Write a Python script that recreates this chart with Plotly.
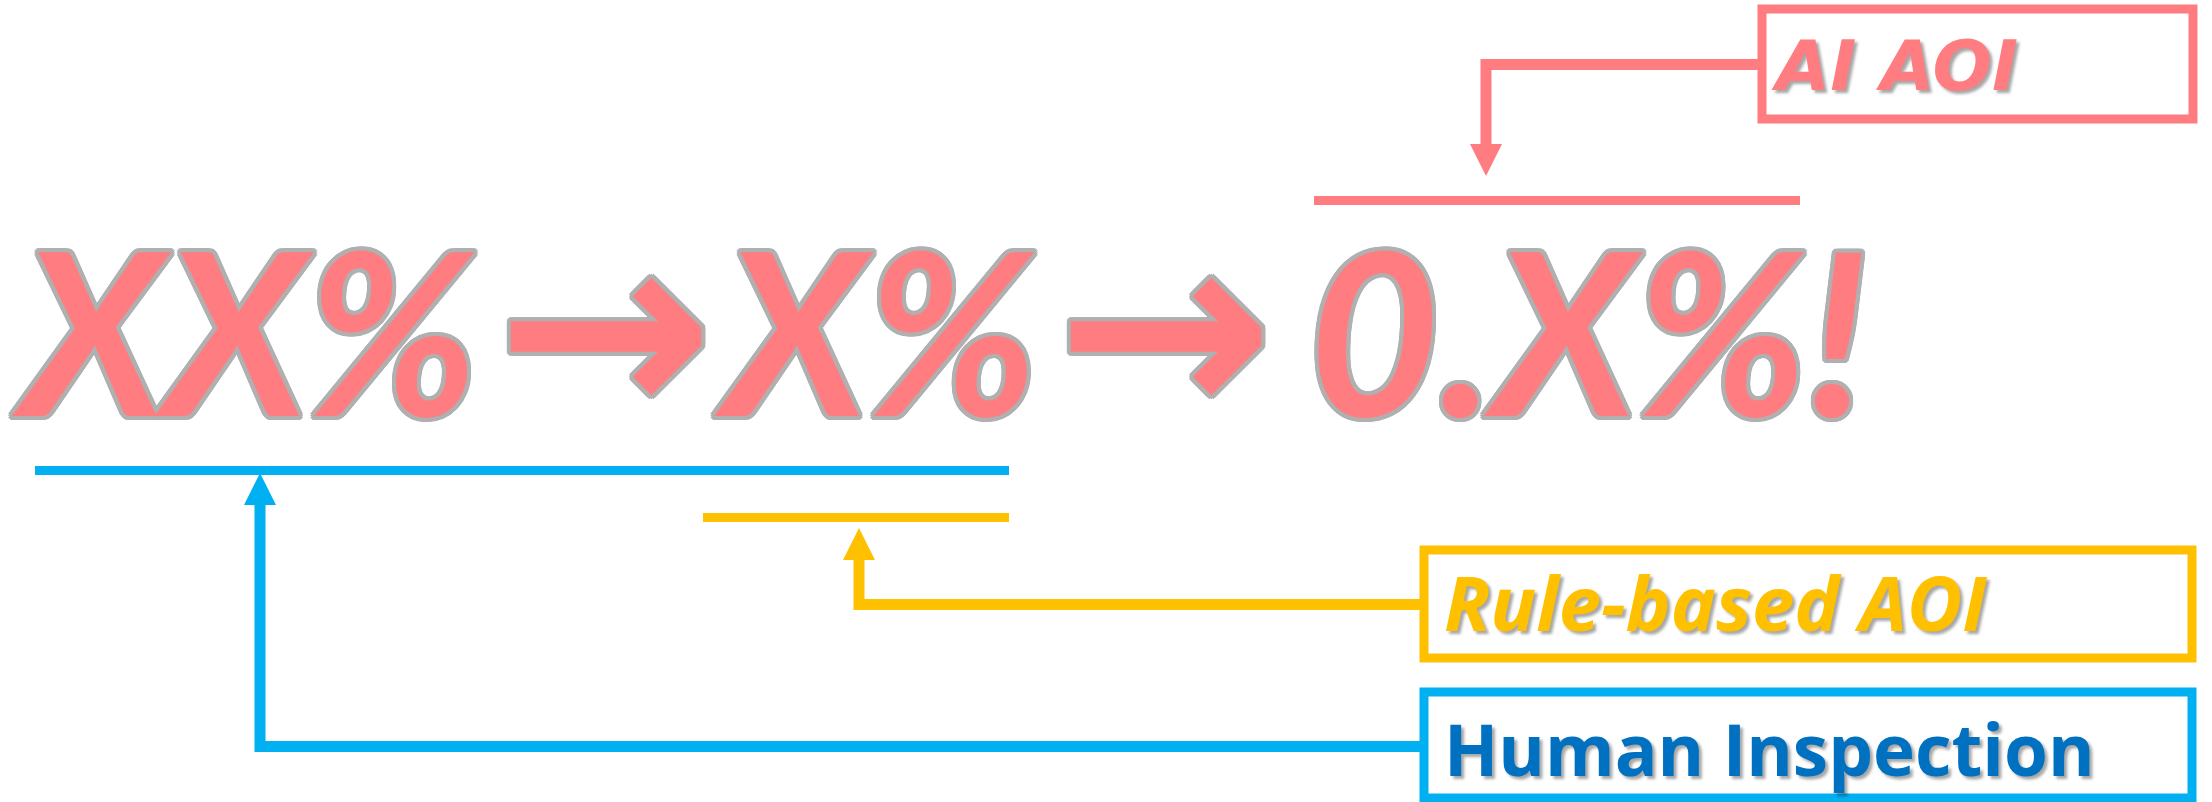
import plotly.graph_objects as go

# ---- content ----
stages = ["XX%", "X%", "0.X%!"]
arrow_glyph = "→"
methods = ["AI AOI", "Rule-based AOI", "Human Inspection"]

# ---- colours ----
PINK = "#FF7C80"
BLUE = "#00B0F0"
YELLOW = "#FFC000"
DARKBLUE = "#0070C0"
OUTLINE = "#B0B0B0"

# ---- layout positions (pixel canvas 2212 x 802) ----
W, H = 2212, 802
stage_x = [250, 881, 1588]
arrow_x = [605, 1165]
text_y = 359
arrow_y = 353

fig = go.Figure()

o = OUTLINE
outline = ", ".join(
    f"{dx}px {dy}px 0 {o}" for dx, dy in
    [(4, 0), (-4, 0), (0, 4), (0, -4), (3, 3), (-3, 3), (3, -3), (-3, -3),
     (4, 2), (-4, 2), (4, -2), (-4, -2), (2, 4), (-2, 4), (2, -4), (-2, -4)]
)

# big headline
fig.add_trace(go.Scatter(
    x=stage_x, y=[text_y] * len(stages), text=stages, mode="text",
    textposition="middle center",
    textfont=dict(family="Lato", size=226, color=PINK, weight=700,
                  style="italic", shadow=outline),
    hoverinfo="skip", showlegend=False))
fig.add_trace(go.Scatter(
    x=arrow_x, y=[arrow_y] * len(arrow_x), text=[arrow_glyph] * len(arrow_x),
    mode="text", textposition="middle center",
    textfont=dict(family="DejaVu Sans", size=260, color=PINK, weight=700,
                  shadow=outline),
    hoverinfo="skip", showlegend=False))

# underlines
underlines = [
    ([1314, 1800], [200.5, 200.5], PINK),
    ([35, 1009], [470.5, 470.5], BLUE),
    ([703, 1009], [517.5, 517.5], YELLOW),
]
for xs, ys, c in underlines:
    fig.add_trace(go.Scatter(x=xs, y=ys, mode="lines",
                             line=dict(color=c, width=9),
                             hoverinfo="skip", showlegend=False))

# elbow connectors
connectors = [
    ([1762, 1486, 1486], [64.5, 64.5, 150], PINK, 1486, 176, "arrow-down"),
    ([1424, 859, 859], [604.5, 604.5, 555], YELLOW, 859, 528, "arrow-up"),
    ([1424, 260, 260], [746.5, 746.5, 497], BLUE, 260, 473, "arrow-up"),
]
for xs, ys, c, tx, ty, sym in connectors:
    fig.add_trace(go.Scatter(x=xs, y=ys, mode="lines",
                             line=dict(color=c, width=11),
                             hoverinfo="skip", showlegend=False))
    fig.add_trace(go.Scatter(x=[tx], y=[ty], mode="markers",
                             marker=dict(symbol=sym, size=32, color=c,
                                         line=dict(width=0)),
                             hoverinfo="skip", showlegend=False))

# boxes
boxes = [
    (1762, 2193, 9, 119, PINK),
    (1424, 2192, 550, 658, YELLOW),
    (1424, 2192, 692, 798, BLUE),
]
for x0, x1, y0, y1, c in boxes:
    fig.add_shape(type="rect", x0=x0, x1=x1, y0=y0, y1=y1, xref="x", yref="y",
                  line=dict(color=c, width=9), fillcolor="rgba(0,0,0,0)",
                  layer="below")

# box labels
drop = "3px 3px 3px rgba(0,0,0,0.35)"
label_specs = [
    (1776, 72, "DejaVu Sans", 70, PINK, "italic"),
    (1444, 612, "Open Sans", 76, YELLOW, "italic"),
    (1444, 758, "Open Sans", 71, DARKBLUE, "normal"),
]
for (lx, ly, fam, sz, col, sty), txt in zip(label_specs, methods):
    fig.add_trace(go.Scatter(
        x=[lx], y=[ly], text=[txt], mode="text", textposition="middle right",
        textfont=dict(family=fam, size=sz, color=col, weight=700, style=sty,
                      shadow=drop),
        hoverinfo="skip", showlegend=False))

fig.update_layout(
    width=W, height=H, margin=dict(l=0, r=0, t=0, b=0),
    paper_bgcolor="white", plot_bgcolor="white",
    xaxis=dict(range=[0, W], visible=False, fixedrange=True),
    yaxis=dict(range=[H, 0], visible=False, fixedrange=True),
)

fig.write_html("out.html", config={"displayModeBar": False},
               post_script="document.body.style.margin='0';document.body.style.overflow='hidden';")
